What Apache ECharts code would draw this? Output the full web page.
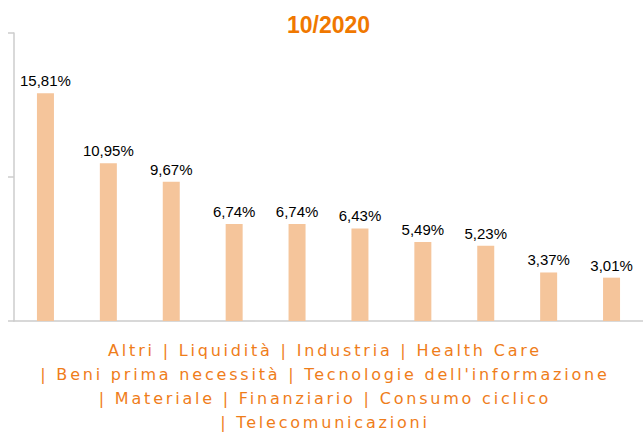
<!DOCTYPE html>
<html>
<head>
<meta charset="utf-8">
<script src="https://cdn.jsdelivr.net/npm/echarts@6/dist/echarts.min.js"></script>
<style>
  html, body { margin: 0; padding: 0; background: #fff; }
  #chart { width: 643px; height: 434px; }
</style>
</head>
<body>
<div id="chart"></div>
<script>
// settori e pesi (10/2020)
const categories = ['Altri', 'Liquidità', 'Industria', 'Health Care', 'Beni prima necessità',
  'Tecnologie dell\'informazione', 'Materiale', 'Finanziario', 'Consumo ciclico', 'Telecomunicazioni'];
const weights = [15.81, 10.95, 9.67, 6.74, 6.74, 6.43, 5.49, 5.23, 3.37, 3.01];
// dove va a capo la didascalia sotto al grafico (indice della prima categoria di ogni riga)
const lineStarts = [0, 4, 6, 9];

const legendLines = lineStarts.map((start, i) => {
  const end = i + 1 < lineStarts.length ? lineStarts[i + 1] : categories.length;
  const part = categories.slice(start, end).join(' | ');
  return start === 0 ? part : '| ' + part;
});

const chart = echarts.init(document.getElementById('chart'), null, { renderer: 'svg' });
chart.setOption({
  animation: false,
  title: {
    text: '10/2020',
    left: 282,
    top: 8,
    textStyle: {
      color: '#F07800',
      fontSize: 23,
      fontWeight: 'bold',
      fontFamily: 'Liberation Sans'
    }
  },
  grid: { left: 14, right: -2, top: 33, bottom: 113 },
  xAxis: {
    type: 'category',
    data: categories,
    axisLine: { lineStyle: { color: '#cccccc', width: 1.5 } },
    axisTick: { length: 5, lineStyle: { color: '#cccccc', width: 1.5 } },
    axisLabel: { show: false }
  },
  yAxis: {
    type: 'value',
    min: 0,
    max: 20,
    interval: 10,
    axisLine: { show: true, lineStyle: { color: '#cccccc', width: 1.5 } },
    axisTick: { show: true, length: 6, lineStyle: { color: '#cccccc', width: 1.5 } },
    axisLabel: { show: false },
    splitLine: { show: false }
  },
  series: [{
    type: 'bar',
    data: weights,
    barWidth: 17,
    itemStyle: { color: '#F5C59B' },
    label: {
      show: true,
      position: 'top',
      distance: 5,
      color: '#000',
      fontSize: 15,
      fontFamily: 'Liberation Sans',
      formatter: p => p.value.toFixed(2).replace('.', ',') + '%'
    }
  }],
  graphic: [{
    type: 'text',
    x: 325,
    y: 338,
    style: {
      text: legendLines.join('\n'),
      align: 'center',
      verticalAlign: 'top',
      fill: '#EF7D1A',
      fontSize: 16,
      fontFamily: 'DejaVu Sans',
      lineHeight: 24
    }
  }]
});

// la didascalia ha le lettere spaziate
document.querySelectorAll('#chart svg text').forEach(t => {
  if (t.textContent.indexOf('|') >= 0) t.style.letterSpacing = '2.8px';
});
</script>
</body>
</html>
